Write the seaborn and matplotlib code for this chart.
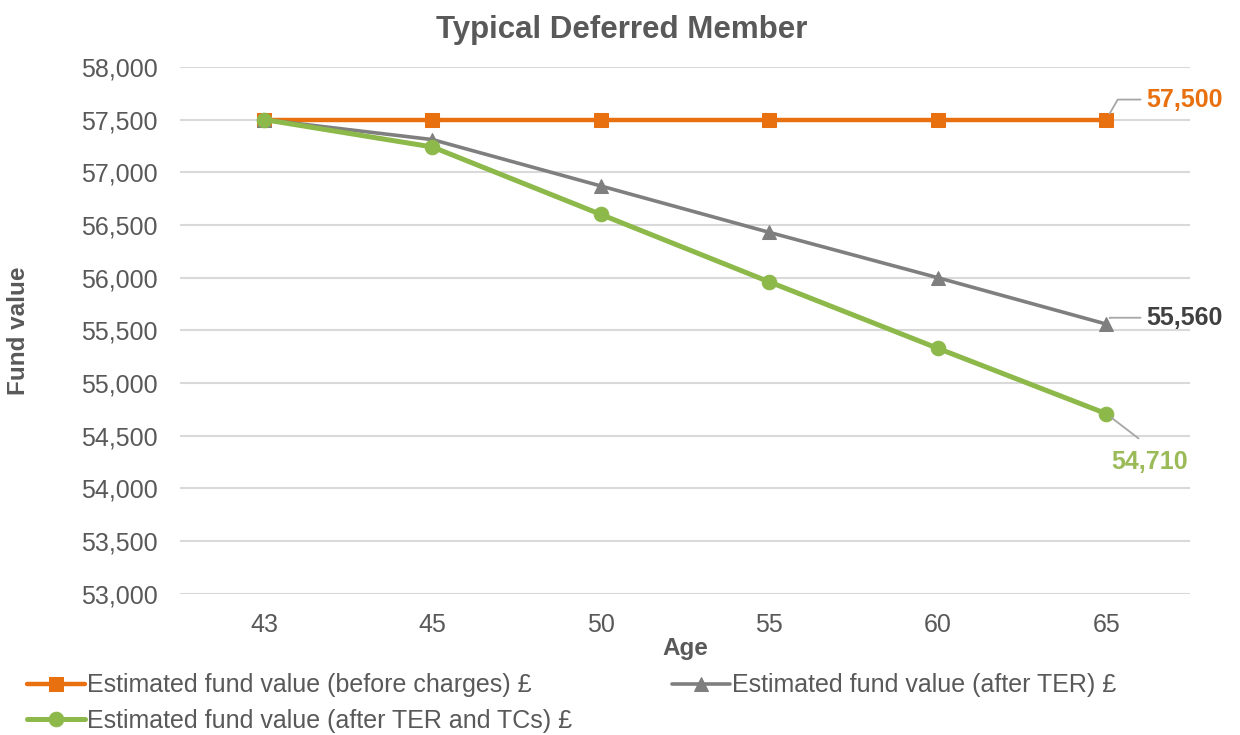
import pandas as pd
import seaborn as sns
import matplotlib.pyplot as plt
from matplotlib.ticker import FuncFormatter

# Data
ages = ['43', '45', '50', '55', '60', '65']
before_charges = [57500, 57500, 57500, 57500, 57500, 57500]
after_ter = [57500, 57310, 56870, 56430, 56000, 55560]
after_ter_tcs = [57500, 57240, 56600, 55960, 55330, 54710]

names = ['Estimated fund value (before charges) £',
         'Estimated fund value (after TER) £',
         'Estimated fund value (after TER and TCs) £']
colors = ['#E8700F', '#7F7F7F', '#8DB84A']
markers = ['s', '^', 'o']
widths = [3.2, 2.6, 3.6]

df = pd.DataFrame({'Age': ages, names[0]: before_charges,
                   names[1]: after_ter, names[2]: after_ter_tcs})

sns.set_style('white')
plt.rcParams['font.family'] = ['Liberation Sans', 'DejaVu Sans']
text_col = '#595959'

fig = plt.figure(figsize=(12.4, 7.35), dpi=100)
ax = fig.add_axes([0.145, 0.192, 0.815, 0.717])

for name, c, m, w in zip(names, colors, markers, widths):
    sns.lineplot(data=df, x='Age', y=name, ax=ax, color=c, marker=m,
                 markersize=10.5, markeredgecolor=c, linewidth=w,
                 label=name, sort=False)

ax.set_xlim(-0.5, len(ages) - 0.5)
ax.set_ylim(53000, 58000)
ax.set_yticks(range(53000, 58001, 500))
ax.yaxis.set_major_formatter(FuncFormatter(lambda v, p: f'{int(v):,}'))
ax.grid(axis='y', color='#D9D9D9', linewidth=1.5)
ax.grid(axis='x', visible=False)
for s in ax.spines.values():
    s.set_visible(False)
ax.tick_params(axis='both', length=0, labelsize=18, labelcolor=text_col)
ax.tick_params(axis='y', pad=16)
ax.tick_params(axis='x', pad=14)

ax.set_title('Typical Deferred Member', fontsize=22.5, fontweight='bold',
             color=text_col, pad=21, x=0.4376)
ax.set_xlabel('Age', fontsize=17.5, fontweight='bold', color=text_col, labelpad=0)
ax.set_ylabel('Fund value', fontsize=17.5, fontweight='bold', color=text_col)
ax.yaxis.set_label_coords(-0.1485, 0.5)

# data labels at the last point
last = len(ages) - 1
lab_kw = dict(fontsize=18, fontweight='bold', va='center')
ax.annotate(f'{before_charges[-1]:,}', xy=(last, before_charges[-1]),
            xytext=(last + 0.24, 57690), color=colors[0], **lab_kw,
            arrowprops=dict(arrowstyle='-', color='#A6A6A6', lw=1.3,
                            connectionstyle='angle,angleA=0,angleB=60,rad=0',
                            shrinkA=2, shrinkB=5))
ax.annotate(f'{after_ter[-1]:,}', xy=(last, after_ter[-1]),
            xytext=(last + 0.24, 55620), color='#404040', **lab_kw,
            arrowprops=dict(arrowstyle='-', color='#A6A6A6', lw=1.3,
                            connectionstyle='angle,angleA=0,angleB=60,rad=0',
                            shrinkA=2, shrinkB=5))
ax.annotate(f'{after_ter_tcs[-1]:,}', xy=(last, after_ter_tcs[-1]),
            xytext=(last + 0.26, 54250), color='#9BBB59', ha='center', **lab_kw,
            arrowprops=dict(arrowstyle='-', color='#A6A6A6', lw=1.3,
                            relpos=(0.55, 1.0), shrinkA=10, shrinkB=5))

h, l = ax.get_legend_handles_labels()
ax.get_legend().remove()
order = [0, 2, 1]
fig.legend([h[i] for i in order], [l[i] for i in order], ncol=2,
           loc='upper left', bbox_to_anchor=(0.022, 0.084), borderpad=0,
           borderaxespad=0, frameon=False, fontsize=18, handlelength=2.3,
           handletextpad=0.1, columnspacing=4.0, labelspacing=0.45,
           labelcolor=text_col)

fig.savefig('out.png', dpi=100)
